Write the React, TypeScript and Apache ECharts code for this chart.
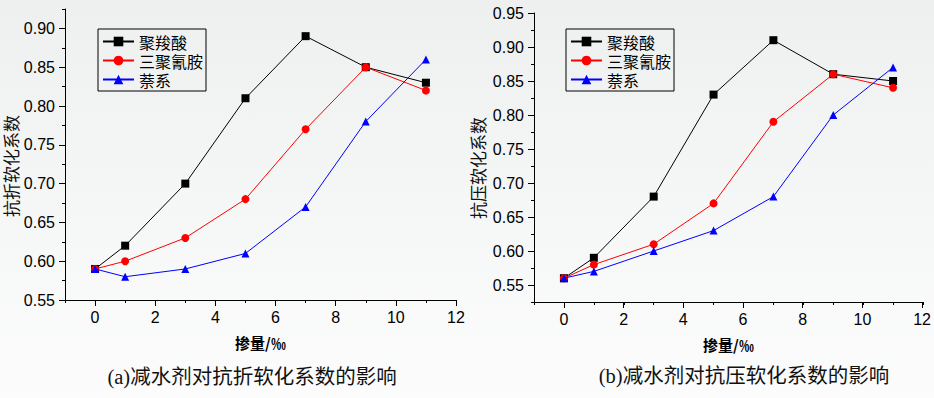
import React, { useEffect, useRef } from "react";
import * as echarts from "echarts";

// Dosage (‰)
const dosage = [0, 1, 3, 5, 7, 9, 11];
const seriesNames = ["聚羧酸", "三聚氰胺", "萘系"];

// (a) flexural softening coefficient
const flexPolycarboxylate = [0.59, 0.62, 0.70, 0.81, 0.89, 0.85, 0.83];
const flexMelamine = [0.59, 0.60, 0.63, 0.68, 0.77, 0.85, 0.82];
const flexNaphthalene = [0.59, 0.58, 0.59, 0.61, 0.67, 0.78, 0.86];

// (b) compressive softening coefficient
const compPolycarboxylate = [0.56, 0.59, 0.68, 0.83, 0.91, 0.86, 0.85];
const compMelamine = [0.56, 0.58, 0.61, 0.67, 0.79, 0.86, 0.84];
const compNaphthalene = [0.56, 0.57, 0.60, 0.63, 0.68, 0.80, 0.87];

const yTitles = ["抗折软化系数", "抗压软化系数"];
const captions = ["(a)减水剂对抗折软化系数的影响", "(b)减水剂对抗压软化系数的影响"];
const xTitle = "掺量/‰";

const colors = ["#000000", "#ff0000", "#0000ff"];
const symbols = ["rect", "circle", "triangle"];

const LABEL_FONT = "'Liberation Sans', Arial, sans-serif";
const CJK_FONT = "'Noto Sans CJK SC', sans-serif";

type Panel = {
  grid: { left: number; top: number; width: number; height: number };
  yMin: number;
  yMax: number;
  yMajorMin: number;
  yMajorMax: number;
  data: number[][];
  yTitle: string;
  yTitlePos: [number, number];
  caption: string;
  captionPos: [number, number];
  legendPos: [number, number];
};

const panels: Panel[] = [
  {
    grid: { left: 65, top: 9, width: 391, height: 291 },
    yMin: 0.55,
    yMax: 0.925,
    yMajorMin: 0.55,
    yMajorMax: 0.9,
    data: [flexPolycarboxylate, flexMelamine, flexNaphthalene],
    yTitle: yTitles[0],
    yTitlePos: [10, 166],
    caption: captions[0],
    captionPos: [252, 377],
    legendPos: [98, 29],
  },
  {
    grid: { left: 534, top: 13, width: 389, height: 289 },
    yMin: 0.525,
    yMax: 0.95,
    yMajorMin: 0.55,
    yMajorMax: 0.95,
    data: [compPolycarboxylate, compMelamine, compNaphthalene],
    yTitle: yTitles[1],
    yTitlePos: [477, 168],
    caption: captions[1],
    captionPos: [744, 376],
    legendPos: [566, 29],
  },
];

const X_MIN = -1;
const X_MAX = 12;

function buildOption() {
  const grid: any[] = [];
  const xAxis: any[] = [];
  const yAxis: any[] = [];
  const series: any[] = [];
  const legend: any[] = [];
  const graphic: any[] = [];

  panels.forEach((p, pi) => {
    const g = p.grid;
    const base = pi * 3;
    grid.push({ left: g.left, top: g.top, width: g.width, height: g.height, containLabel: false });
    const yScale = g.height / (p.yMax - p.yMin);
    const yTop = g.top + (p.yMax - p.yMajorMax) * yScale;
    const yH = (p.yMajorMax - p.yMajorMin) * yScale;
    grid.push({ left: g.left, top: yTop, width: g.width, height: yH, containLabel: false });
    const xScale = g.width / (X_MAX - X_MIN);
    grid.push({ left: g.left + (0 - X_MIN) * xScale, top: g.top, width: 12 * xScale, height: g.height, containLabel: false });

    xAxis.push({
      gridIndex: base,
      type: "value",
      min: X_MIN,
      max: X_MAX,
      interval: 1,
      axisLine: { show: true, onZero: false, lineStyle: { color: "#000", width: 1 } },
      axisTick: { show: true, length: 3, lineStyle: { color: "#000", width: 1 } },
      axisLabel: { show: false },
      splitLine: { show: false },
      name: xTitle,
      nameLocation: "middle",
      nameGap: 35,
      nameTextStyle: { fontFamily: CJK_FONT, fontSize: 15, fontWeight: "bold", color: "#000" },
    });
    yAxis.push({
      gridIndex: base,
      type: "value",
      min: p.yMin,
      max: p.yMax,
      interval: 0.025,
      axisLine: { show: true, onZero: false, lineStyle: { color: "#000", width: 1 } },
      axisTick: { show: true, length: 3, lineStyle: { color: "#000", width: 1 } },
      axisLabel: { show: false },
      splitLine: { show: false },
    });
    xAxis.push({ gridIndex: base + 1, type: "value", min: 0, max: 1, show: false });
    yAxis.push({
      gridIndex: base + 1,
      type: "value",
      min: p.yMajorMin,
      max: p.yMajorMax,
      interval: 0.05,
      axisLine: { show: false, onZero: false },
      axisTick: { show: true, length: 6, lineStyle: { color: "#000", width: 1 } },
      axisLabel: {
        show: true,
        margin: 10,
        fontFamily: LABEL_FONT,
        fontSize: 16,
        color: "#000",
        formatter: (v: number) => v.toFixed(2),
      },
      splitLine: { show: false },
    });
    xAxis.push({
      gridIndex: base + 2,
      type: "value",
      min: 0,
      max: 12,
      interval: 2,
      axisLine: { show: false, onZero: false },
      axisTick: { show: true, length: 6, lineStyle: { color: "#000", width: 1 } },
      axisLabel: { show: true, margin: 9, fontFamily: LABEL_FONT, fontSize: 16, color: "#000" },
      splitLine: { show: false },
    });
    yAxis.push({ gridIndex: base + 2, type: "value", min: 0, max: 1, show: false });

    p.data.forEach((arr, si) => {
      series.push({
        type: "line",
        name: seriesNames[si],
        xAxisIndex: base,
        yAxisIndex: base,
        data: dosage.map((x, i) => [x, arr[i]]),
        symbol: symbols[si],
        symbolSize: 8,
        color: colors[si],
        lineStyle: { color: colors[si], width: 1 },
        itemStyle: { color: colors[si] },
        emphasis: { disabled: true },
        z: 3 + si,
      });
    });

    legend.push({
      show: true,
      orient: "vertical",
      left: p.legendPos[0],
      top: p.legendPos[1],
      padding: [4, 3, 3, 4],
      itemGap: 2,
      itemWidth: 31,
      itemHeight: 12,
      borderColor: "#000",
      borderWidth: 1,
      selectedMode: false,
      data: seriesNames,
      textStyle: { fontFamily: CJK_FONT, fontSize: 16, color: "#000", lineHeight: 17 },
    });

    graphic.push({
      type: "text",
      x: p.yTitlePos[0],
      y: p.yTitlePos[1],
      rotation: Math.PI / 2,
      style: {
        text: p.yTitle,
        font: `17px ${CJK_FONT}`,
        fill: "#111",
        align: "center",
        verticalAlign: "middle",
      },
    });
    graphic.push({
      type: "text",
      x: p.captionPos[0],
      y: p.captionPos[1],
      style: {
        text: p.caption,
        font: `20.5px 'Liberation Serif', 'Noto Sans CJK SC', serif`,
        fill: "#111",
        align: "center",
        verticalAlign: "middle",
      },
    });
  });

  return {
    animation: false,
    backgroundColor: {
      type: "linear",
      x: 0,
      y: 0,
      x2: 0,
      y2: 1,
      colorStops: [
        { offset: 0, color: "#eef0f0" },
        { offset: 1, color: "#fcfcfc" },
      ],
    },
    grid,
    xAxis,
    yAxis,
    series,
    legend,
    graphic,
    tooltip: { show: false },
  };
}

export default function App() {
  const ref = useRef<HTMLDivElement>(null);
  useEffect(() => {
    document.body.style.margin = "0";
    if (!ref.current) return;
    const chart = echarts.init(ref.current, undefined, { renderer: "svg" });
    chart.setOption(buildOption() as any);
    return () => chart.dispose();
  }, []);
  return (
    <div style={{ position: "fixed", left: 0, top: 0, width: 934, height: 398 }}>
      <div ref={ref} style={{ width: 934, height: 398 }} />
    </div>
  );
}
